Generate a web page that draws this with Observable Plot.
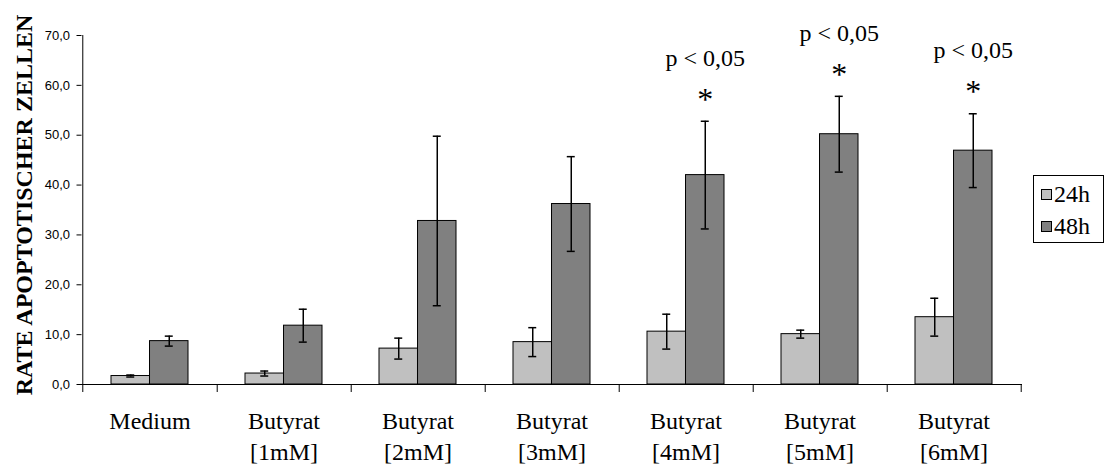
<!DOCTYPE html>
<html>
<head>
<meta charset="utf-8">
<script src="https://cdn.jsdelivr.net/npm/d3@7"></script>
<script src="https://cdn.jsdelivr.net/npm/@observablehq/plot@0.6"></script>
<style>
  body { margin: 0; background: #fff; }
  #wrap { position: relative; width: 1105px; height: 464px; overflow: hidden; }
  #legend { position: absolute; left: 1033px; top: 175px; width: 71px; height: 68px;
            border: 1px solid #000; box-sizing: border-box; padding-top: 2px;
            font-family: 'Liberation Serif', 'Times New Roman', serif; font-size: 24px; color: #000; }
  .item { display: flex; align-items: center; height: 32px; font-family: 'Liberation Serif', 'Times New Roman', serif; }
  .sw { width: 11px; height: 11px; box-sizing: border-box; border: 1px solid #000; margin-left: 7px; margin-right: 2px; }
</style>
</head>
<body>
<div id="wrap"></div>
<script>
// ---- data ----
const categories = ["Medium", "Butyrat [1mM]", "Butyrat [2mM]", "Butyrat [3mM]", "Butyrat [4mM]", "Butyrat [5mM]", "Butyrat [6mM]"];
const categoryLabels = ["Medium", "Butyrat\n[1mM]", "Butyrat\n[2mM]", "Butyrat\n[3mM]", "Butyrat\n[4mM]", "Butyrat\n[5mM]", "Butyrat\n[6mM]"];
const series = ["24h", "48h"];
const values24 = [1.7, 2.2, 7.2, 8.5, 10.6, 10.1, 13.5];
const errors24 = [0.2, 0.5, 2.1, 2.9, 3.5, 0.8, 3.8];
const values48 = [8.7, 11.8, 32.8, 36.2, 42.0, 50.2, 46.9];
const errors48 = [1.0, 3.3, 17.0, 9.5, 10.8, 7.6, 7.4];
const significant = ["Butyrat [4mM]", "Butyrat [5mM]", "Butyrat [6mM]"];
const significanceLabel = "p < 0,05";
const yTicks = [0, 10, 20, 30, 40, 50, 60, 70];
const yTitle = "RATE APOPTOTISCHER ZELLEN";
const seriesColors = ["#c0c0c0", "#808080"];

// ---- layout ----
const W = 1105, H = 464, ML = 81, MR = 83, MT = 35, MB = 80;
const padInner = 0.427, padOuter = padInner / 2;
const step = (W - ML - MR) / categories.length;
const bw = step * (1 - padInner);
const serif = "'Liberation Serif', 'Times New Roman', serif";
const sans = "'Liberation Sans', Arial, sans-serif";

const rows24 = categories.map((c, i) => ({category: c, series: series[0], value: values24[i], err: errors24[i]}));
const rows48 = categories.map((c, i) => ({category: c, series: series[1], value: values48[i], err: errors48[i]}));
const sig = rows48.filter(d => significant.includes(d.category));
const capHalf = 4;

const chart = Plot.plot({
  width: W, height: H,
  marginLeft: ML, marginRight: MR, marginTop: MT, marginBottom: MB,
  style: {fontFamily: serif, background: "#fff", color: "#000", overflow: "visible"},
  x: {domain: categories, paddingInner: padInner, paddingOuter: padOuter, axis: null},
  y: {domain: [0, 70], axis: null},
  color: {domain: series, range: seriesColors},
  marks: [
    Plot.barY(rows24, {x: "category", y: "value", fill: "series", stroke: "#000", strokeWidth: 1, insetRight: bw / 2}),
    Plot.barY(rows48, {x: "category", y: "value", fill: "series", stroke: "#000", strokeWidth: 1, insetLeft: bw / 2}),
    // error bars
    Plot.ruleX(rows24, {x: "category", y1: d => d.value + d.err, y2: d => d.value - d.err, dx: -bw / 4, stroke: "#000", strokeWidth: 1.5}),
    Plot.ruleX(rows48, {x: "category", y1: d => d.value + d.err, y2: d => d.value - d.err, dx: bw / 4, stroke: "#000", strokeWidth: 1.5}),
    Plot.tickY(rows24, {x: "category", y: d => d.value + d.err, insetLeft: bw / 4 - capHalf, insetRight: 3 * bw / 4 - capHalf, stroke: "#000", strokeWidth: 1.5}),
    Plot.tickY(rows24, {x: "category", y: d => d.value - d.err, insetLeft: bw / 4 - capHalf, insetRight: 3 * bw / 4 - capHalf, stroke: "#000", strokeWidth: 1.5}),
    Plot.tickY(rows48, {x: "category", y: d => d.value + d.err, insetLeft: 3 * bw / 4 - capHalf, insetRight: bw / 4 - capHalf, stroke: "#000", strokeWidth: 1.5}),
    Plot.tickY(rows48, {x: "category", y: d => d.value - d.err, insetLeft: 3 * bw / 4 - capHalf, insetRight: bw / 4 - capHalf, stroke: "#000", strokeWidth: 1.5}),
    // axes
    Plot.ruleY([0], {stroke: "#000"}),
    Plot.ruleX([categories[0]], {x: d => d, dx: -step / 2, y1: 70, y2: 0, insetBottom: -8, stroke: "#000"}),
    Plot.ruleX(categories, {x: d => d, dx: step / 2, y1: 0, y2: 0, insetBottom: -8, stroke: "#000"}),
    Plot.axisY({ticks: yTicks, tickFormat: d => d.toFixed(1).replace(".", ","), tickSize: 5, tickPadding: 7,
                fontSize: 13, fontFamily: sans, label: null, dx: 0.5}),
    Plot.text(categories, {x: d => d, text: (d, i) => categoryLabels[i], frameAnchor: "bottom", lineAnchor: "top",
                           dy: 23, fontSize: 24, fontFamily: serif, lineHeight: 1.28}),
    Plot.text([yTitle], {frameAnchor: "left", textAnchor: "middle", rotate: -90, dx: -57, dy: -5, fontSize: 24, fontWeight: "bold", fontFamily: serif}),
    // significance annotations
    Plot.text(sig, {x: "category", y: d => d.value + d.err, text: () => significanceLabel, dx: bw / 4, dy: -63, fontSize: 24, fontFamily: serif}),
    Plot.text(sig, {x: "category", y: d => d.value + d.err, text: () => "*", dx: bw / 4, dy: -22, fontSize: 32, fontFamily: serif})
  ]
});

const wrap = document.getElementById("wrap");
wrap.appendChild(chart);

const color = chart.scale("color");
const legend = document.createElement("div");
legend.id = "legend";
series.forEach((s, i) => {
  const item = document.createElement("div");
  item.className = "item";
  const sw = document.createElement("span");
  sw.className = "sw";
  sw.style.background = color.range[i];
  const t = document.createElement("span");
  t.textContent = s;
  item.appendChild(sw);
  item.appendChild(t);
  legend.appendChild(item);
});
wrap.appendChild(legend);
</script>
</body>
</html>
